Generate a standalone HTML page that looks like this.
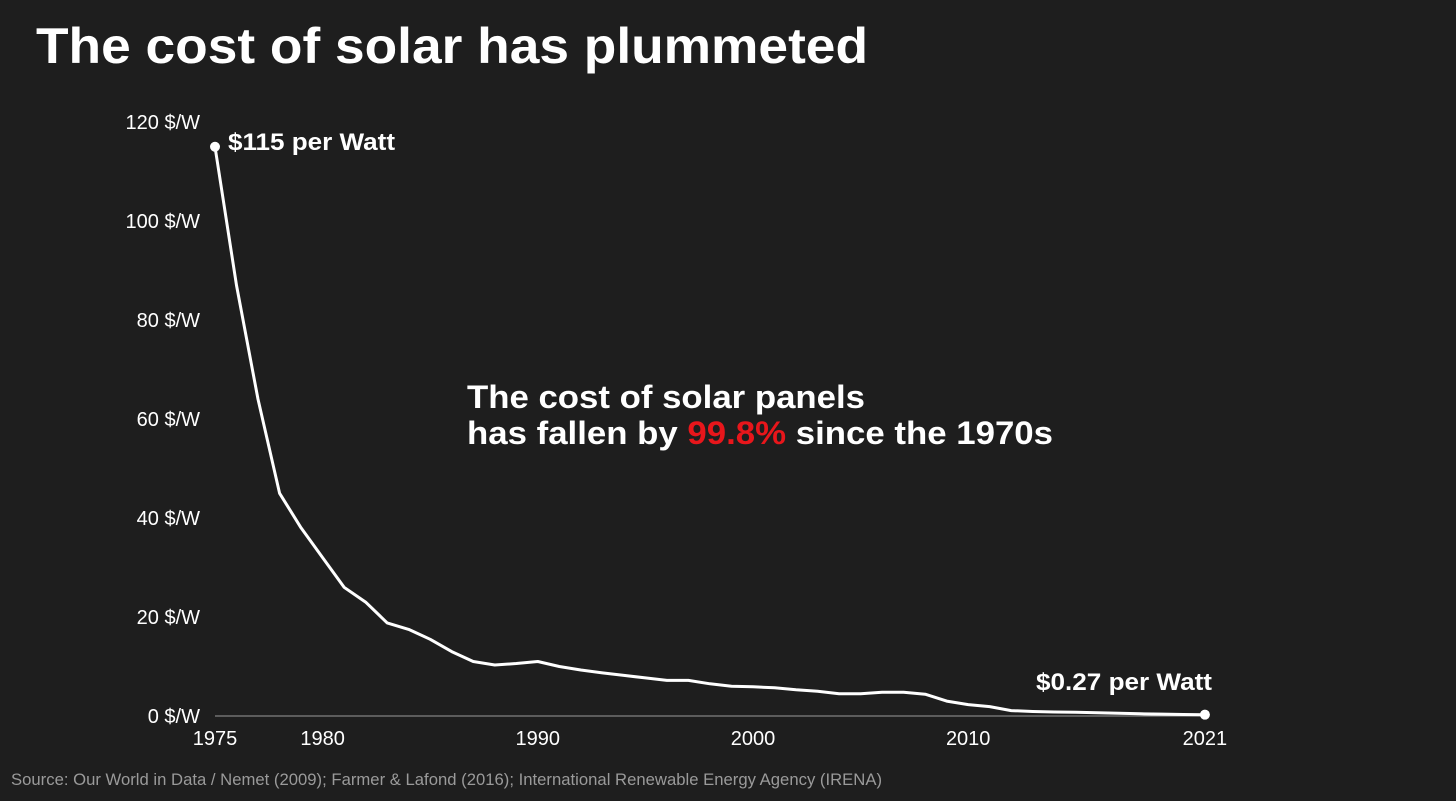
<!DOCTYPE html>
<html><head><meta charset="utf-8"><style>
html,body{margin:0;padding:0;background:#1e1e1e;}
svg{display:block;font-family:"Liberation Sans",Arial,sans-serif;}
</style></head><body>
<svg id="chart" width="1456" height="801" viewBox="0 0 1456 801">
<rect width="1456" height="801" fill="#1e1e1e"/>
<text x="36" y="63" font-size="50" font-weight="bold" fill="#fff" textLength="832" lengthAdjust="spacingAndGlyphs">The cost of solar has plummeted</text>
<g id="yaxis"></g>
<g id="xaxis"></g>
<line x1="215" y1="716" x2="1205" y2="716" stroke="#9a9a9a" stroke-width="1"/>
<path id="line" fill="none" stroke="#fff" stroke-width="3" stroke-linejoin="round"/>
<circle id="dot-start" r="5" fill="#fff"/>
<circle id="dot-end" r="5" fill="#fff"/>
<text x="228" y="150" font-size="24" font-weight="bold" fill="#fff" textLength="167" lengthAdjust="spacingAndGlyphs">$115 per Watt</text>
<text x="1036" y="690" font-size="24" font-weight="bold" fill="#fff" textLength="176" lengthAdjust="spacingAndGlyphs">$0.27 per Watt</text>
<text x="467" y="408" font-size="32" font-weight="bold" fill="#fff" textLength="398" lengthAdjust="spacingAndGlyphs">The cost of solar panels</text>
<text x="467" y="444" font-size="32" font-weight="bold" fill="#fff" textLength="586" lengthAdjust="spacingAndGlyphs">has fallen by <tspan fill="#e8161b">99.8%</tspan> since the 1970s</text>
<text x="11" y="785" font-size="17" fill="#9a9a9a" textLength="871" lengthAdjust="spacingAndGlyphs">Source: Our World in Data / Nemet (2009); Farmer &amp; Lafond (2016); International Renewable Energy Agency (IRENA)</text>
</svg>
<script>
const years = [1975,1976,1977,1978,1979,1980,1981,1982,1983,1984,1985,1986,1987,1988,1989,1990,1991,1992,1993,1994,1995,1996,1997,1998,1999,2000,2001,2002,2003,2004,2005,2006,2007,2008,2009,2010,2011,2012,2013,2014,2015,2016,2017,2018,2019,2020,2021];
const costs = [115,87,64,45,38,32,26,23,18.8,17.5,15.5,13,11,10.3,10.6,11,10,9.3,8.7,8.2,7.7,7.2,7.2,6.5,6,5.9,5.7,5.3,5,4.5,4.5,4.8,4.8,4.4,3,2.3,1.9,1.1,0.9,0.8,0.75,0.65,0.55,0.45,0.38,0.3,0.27];
const yTicks = [0,20,40,60,80,100,120];
const xTicks = [1975,1980,1990,2000,2010,2021];

const NS = "http://www.w3.org/2000/svg";
function xs(y){ return 215 + (y-1975)*21.52; }
function ys(v){ return 716 - v*4.95; }

const yg = document.getElementById('yaxis');
yTicks.forEach(t=>{
  const el = document.createElementNS(NS,'text');
  
  
  el.setAttribute('x', 200); el.setAttribute('y', ys(t)+7);
  el.setAttribute('text-anchor','end'); el.setAttribute('font-size','20'); el.setAttribute('fill','#fff');
  el.textContent = t + ' $/W';
  yg.appendChild(el);
});
const xg = document.getElementById('xaxis');
xTicks.forEach(t=>{
  const el = document.createElementNS(NS,'text');
  
  
  el.setAttribute('x', xs(t)); el.setAttribute('y', 745);
  el.setAttribute('text-anchor','middle'); el.setAttribute('font-size','20'); el.setAttribute('fill','#fff');
  el.textContent = t;
  xg.appendChild(el);
});
let d = '';
years.forEach((y,i)=>{ d += (i?'L':'M') + xs(y).toFixed(1) + ',' + ys(costs[i]).toFixed(1); });
document.getElementById('line').setAttribute('d', d);
const s = document.getElementById('dot-start');
s.setAttribute('cx', xs(years[0])); s.setAttribute('cy', ys(costs[0]));
const e = document.getElementById('dot-end');
e.setAttribute('cx', xs(years[years.length-1])); e.setAttribute('cy', ys(costs[costs.length-1]));
</script>
</body></html>
